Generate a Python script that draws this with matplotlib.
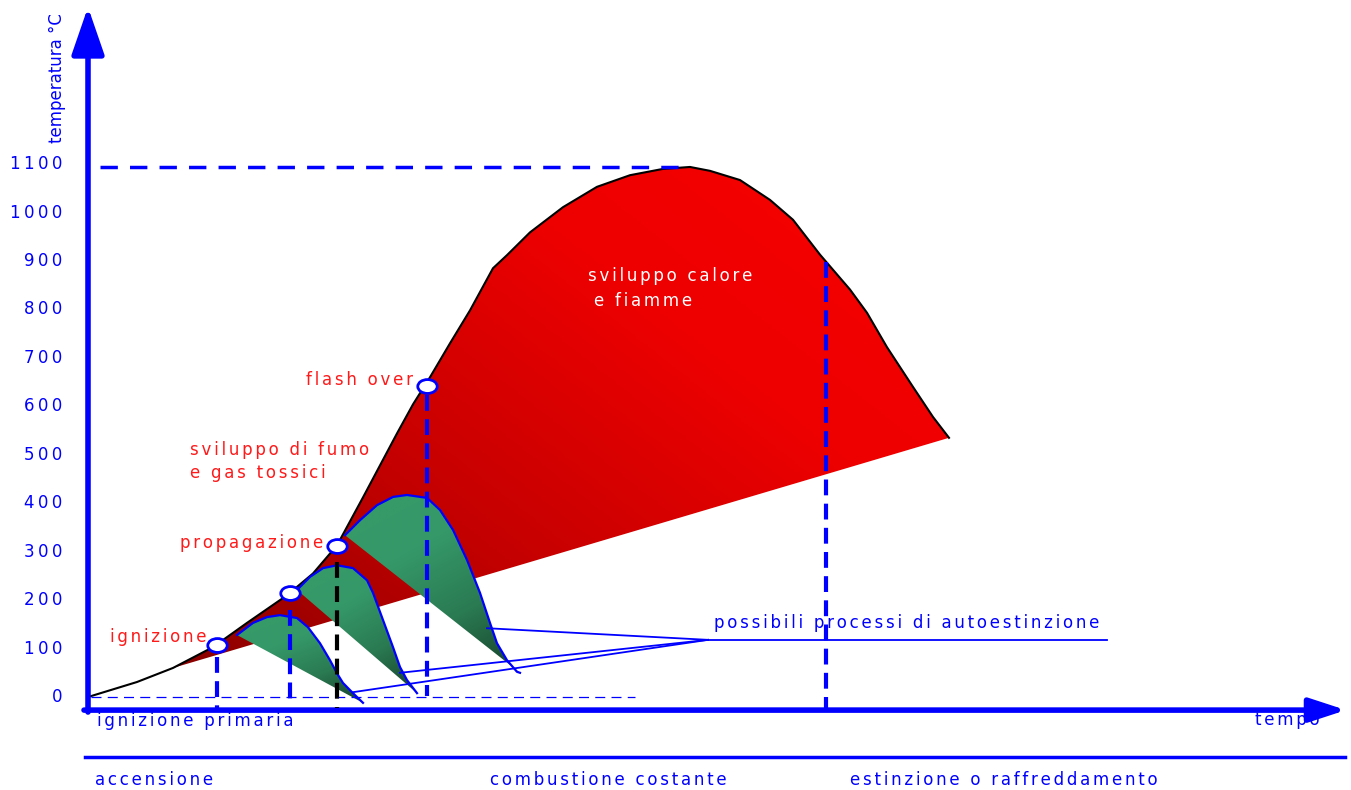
import numpy as np
import matplotlib
matplotlib.use("Agg")
import matplotlib.pyplot as plt
from matplotlib.patches import Polygon
from matplotlib.path import Path
from matplotlib.transforms import Affine2D
from matplotlib.colors import LinearSegmentedColormap
from matplotlib import font_manager

#%% data (time in arbitrary units, temperature in °C)

t_curve = [0, 4.9, 8.5, 12.5, 15.9, 19.9, 22.5, 24.9, 27.5, 30.9, 32.5, 34.2, 36.2,
           38.2, 40.5, 41.9, 44.2, 47.5, 50.9, 54.2, 57.5, 60.2, 62.2, 65.2,
           68.2, 70.5, 73.2, 76.2, 77.9, 79.9, 82.5, 84.5, 86.1]
T_curve = [0, 31, 60, 103, 153, 210, 255, 313, 412, 544, 604, 660, 730,
           798, 885, 912, 959, 1011, 1053, 1077, 1090, 1094, 1086, 1067,
           1026, 985, 913, 841, 793, 722, 640, 578, 535]

# marked points: ignizione, (second ignition), propagazione, flash over
t_mark = [12.9, 20.2, 24.9, 33.9]
T_mark = [107, 215, 312, 642]

# three "autoestinzione" humps
hump1_t = [14.9, 16.5, 17.9, 19.2, 20.9, 22.0, 23.2, 24.2, 24.9, 25.5, 26.5, 27.5]
hump1_T = [128, 153, 165, 169, 163, 144, 111, 76, 49, 29, 8, -12]
hump2_t = [20.9, 22.2, 23.5, 24.9, 26.5, 27.9, 28.5, 29.5, 30.5, 31.2, 31.9, 32.9]
hump2_T = [221, 248, 266, 272, 266, 241, 215, 159, 103, 62, 35, 8]
hump3_t = [25.7, 27.2, 28.9, 30.5, 31.9, 33.9, 35.2, 36.5, 37.9, 39.2, 40.2,
           40.9, 41.9, 42.9, 43.2]
hump3_T = [334, 365, 396, 413, 417, 411, 386, 345, 283, 215, 153, 111, 76, 52, 50]

# drop lines (time, top, bottom)
drop_t = [12.9, 20.2, 24.9, 33.9, 73.8]
drop_top = [83, 180, 279, 623, 898]
drop_bottom = [-23, -6, -23, 2, -27]
drop_color = ["blue", "blue", "black", "blue", "blue"]

# "possibili processi di autoestinzione" leader lines
leader_from = (62.0, 118)
leader_to_t = [39.9, 31.2, 26.5]
leader_to_T = [142, 50, 10]
leader_end_t = 101.9

temp_ticks = [0, 100, 200, 300, 400, 500, 600, 700, 800, 900, 1000, 1100]

#%% helpers

def sp(s, gap="\u2006"):
    # wide letter spacing like the original drawing
    return gap.join(s)

names = {f.name for f in font_manager.fontManager.ttflist}
narrow = "Liberation Sans Narrow" if "Liberation Sans Narrow" in names else "DejaVu Sans"

def gradient_fill(ax, xs, ys, colors, direction, z):
    poly = Polygon(np.column_stack([xs, ys]), closed=True, facecolor="none",
                   edgecolor="none", transform=ax.transData)
    ax.add_patch(poly)
    x0, x1, y0, y1 = min(xs), max(xs), min(ys), max(ys)
    gx, gy = np.meshgrid(np.linspace(0, 1, 200), np.linspace(0, 1, 200))
    g = direction[0] * gx + direction[1] * gy
    g = (g - g.min()) / (g.max() - g.min())
    cmap = LinearSegmentedColormap.from_list("g", colors)
    im = ax.imshow(g, extent=[x0, x1, y0, y1], origin="lower", cmap=cmap,
                   aspect="auto", interpolation="bilinear", zorder=z)
    im.set_clip_path(poly)

# slightly flattened circle for the marked points
ellipse = Path.unit_circle().transformed(Affine2D().scale(1.4, 1.0))

#%% figure

fig = plt.figure(figsize=(13.51, 7.90), dpi=100)
ax = fig.add_axes([0, 0, 1, 1])
ax.set_axis_off()
ax.set_autoscale_on(False)
ax.set_xlim(-8.8, 126.3)
ax.set_ylim(-191.9, 1438.6)

blue = "#0000ff"
red = "#ff1a1a"

# red area between the curve and the straight base line
red_t = t_curve[2:]
red_T = T_curve[2:]
gradient_fill(ax, red_t, red_T, ["#8a0000", "#c40000", "#ee0000", "#f80000"], (0.55, 0.45), 1)
ax.plot(t_curve, T_curve, color="black", lw=1.5, zorder=2, solid_joinstyle="round")

# green humps
for ht, hT in [(hump1_t, hump1_T), (hump2_t, hump2_T), (hump3_t, hump3_T)]:
    gradient_fill(ax, ht, hT, ["#16402a", "#2a7a52", "#359868", "#369a68"], (-0.35, 0.65), 3)
    ax.plot(ht, hT, color=blue, lw=1.6, zorder=4, solid_joinstyle="round")

# leader lines
for lt, lT in zip(leader_to_t, leader_to_T):
    ax.plot([leader_from[0], lt], [leader_from[1], lT], color=blue, lw=1.3, zorder=5)
ax.plot([leader_from[0], leader_end_t], [leader_from[1], leader_from[1]], color=blue, lw=1.3, zorder=5)

# dashed guides
ax.plot([1.2, 59.2], [max(T_curve)] * 2, color=blue, lw=2.5, dashes=(5, 3.5), zorder=5)
ax.plot([0.3, 54.7], [0, 0], color=blue, lw=0.9, dashes=(8, 5), zorder=5)
for dt, top, bot, c in zip(drop_t, drop_top, drop_bottom, drop_color):
    ax.plot([dt, dt], [top, bot], color=c, lw=3, dashes=(3.8, 2.0), zorder=6)

# markers
ax.plot(t_mark, T_mark, marker=ellipse, ls="none", ms=14, mfc="white", mec=blue, mew=2, zorder=7)

# axes arrows
ax.annotate("", xy=(0, 1424), xytext=(0, -31),
            arrowprops=dict(arrowstyle="-|>,head_length=1.45,head_width=0.5",
                            lw=4, color=blue, mutation_scale=20, shrinkA=0, shrinkB=0))
ax.annotate("", xy=(125.8, -27), xytext=(-0.4, -27),
            arrowprops=dict(arrowstyle="-|>,head_length=1.1,head_width=0.36",
                            lw=4, color=blue, mutation_scale=20, shrinkA=0, shrinkB=0))
ax.plot([-0.3, 125.7], [-124, -124], color=blue, lw=2.5)

# tick labels
for v in temp_ticks:
    ax.text(-2.6, v, sp(str(v), "\u2009"), color=blue, fontsize=12, ha="right", va="center")
ax.text(-3.1, 1278, "temperatura °C", color=blue, fontsize=12, family=narrow,
        rotation=90, ha="center", va="center")

# labels
fs = 12
ax.text(11.9, 124, sp("ignizione"), color=red, fontsize=fs, ha="right", va="center")
ax.text(23.5, 318, sp("propagazione"), color=red, fontsize=fs, ha="right", va="center")
ax.text(32.5, 654, sp("flash over"), color=red, fontsize=fs, ha="right", va="center")
ax.text(10.2, 510, sp("sviluppo di fumo"), color=red, fontsize=fs, ha="left", va="center")
ax.text(10.2, 462, sp("e gas tossici"), color=red, fontsize=fs, ha="left", va="center")
ax.text(50.0, 869, sp("sviluppo calore"), color="white", fontsize=fs, ha="left", va="center", zorder=8)
ax.text(50.6, 817, sp("e fiamme"), color="white", fontsize=fs, ha="left", va="center", zorder=8)
ax.text(62.6, 153, sp("possibili processi di autoestinzione"), color=blue, fontsize=fs, ha="left", va="center")
ax.text(0.9, -50, sp("ignizione primaria"), color=blue, fontsize=fs, ha="left", va="center")
ax.text(123.2, -47, sp("tempo"), color=blue, fontsize=fs, ha="right", va="center")
ax.text(0.7, -171, sp("accensione"), color=blue, fontsize=fs, ha="left", va="center")
ax.text(40.2, -171, sp("combustione costante"), color=blue, fontsize=fs, ha="left", va="center")
ax.text(76.2, -171, sp("estinzione o raffreddamento"), color=blue, fontsize=fs, ha="left", va="center")

fig.savefig("out.png", dpi=100)
